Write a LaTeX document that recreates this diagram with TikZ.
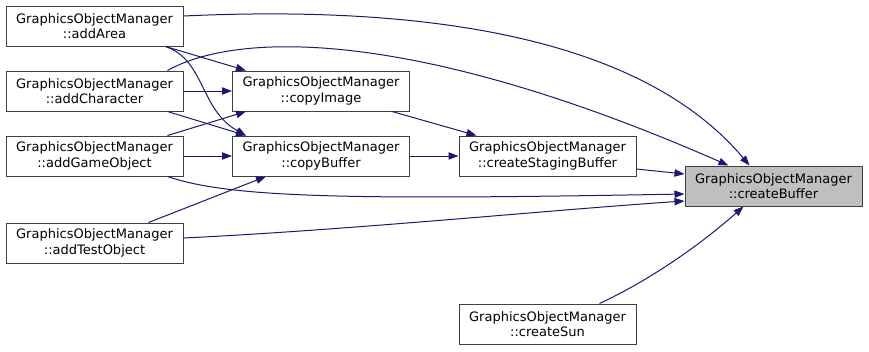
\documentclass[tikz,border=0pt]{standalone}
\usepackage{fontspec}
\setmainfont{DejaVu Sans}
\usetikzlibrary{arrows.meta,calc}

\definecolor{edgeblue}{HTML}{191970}

\begin{document}
\begin{tikzpicture}[
    x=0.75pt, y=-0.75pt,
    every node/.style={font=\fontsize{9.75}{11.5}\selectfont, align=center},
    func/.style={
        draw=black!75,
        line width=0.75pt,
        minimum width=132.75pt,
        minimum height=30pt,
        inner sep=0pt,
        fill=white
    },
    root/.style={func, fill=black!25},
    call/.style={draw=edgeblue, line width=0.75pt, -{Triangle[length=7.5pt,width=5.5pt]}}
]
\useasboundingbox (0,0) rectangle (869,351);

% callers on the left
\node[func] (addArea) at (94.5,26) {GraphicsObjectManager\\::addArea};
\node[func] (addCharacter) at (94.5,91) {GraphicsObjectManager\\::addCharacter};
\node[func] (addGameObject) at (94.5,156) {GraphicsObjectManager\\::addGameObject};
\node[func] (addTestObject) at (94.5,243) {GraphicsObjectManager\\::addTestObject};

% helpers
\node[func] (copyImage) at (321,91) {GraphicsObjectManager\\::copyImage};
\node[func] (copyBuffer) at (321,156) {GraphicsObjectManager\\::copyBuffer};
\node[func] (createStagingBuffer) at (547.5,156) {GraphicsObjectManager\\::createStagingBuffer};
\node[func] (createSun) at (547.5,324) {GraphicsObjectManager\\::createSun};
\node[root] (createBuffer) at (773.5,186) {GraphicsObjectManager\\::createBuffer};

% into copyImage
\draw[call] ($(addArea.south east)+(-18,0)$) -- ($(copyImage.north west)+(14,0)$);
\draw[call] (addCharacter.east) -- (copyImage.west);
\draw[call] ($(addGameObject.north east)+(-16,0)$) -- ($(copyImage.south west)+(14,0)$);

% into copyBuffer
\draw[call] ($(addArea.south east)+(-18,0)$) .. controls (205,60) and (200,110) .. ($(copyBuffer.north west)+(14,0)$);
\draw[call] ($(addCharacter.south east)+(-16,0)$) -- ($(copyBuffer.north west)+(14,0)$);
\draw[call] (addGameObject.east) -- (copyBuffer.west);
\draw[call] ($(addTestObject.north east)+(-35,0)$) -- ($(copyBuffer.south west)+(34,0)$);

% into createStagingBuffer
\draw[call] ($(copyImage.south east)+(-18,0)$) -- ($(createStagingBuffer.north west)+(18,0)$);
\draw[call] (copyBuffer.east) -- (createStagingBuffer.west);

% into createBuffer
\draw[call] ($(addArea.east)+(0,-10)$) .. controls (420,5) and (640,35) .. ($(createBuffer.north)+(-24,0)$);
\draw[call] ($(addCharacter.north east)+(-16,0)$) .. controls (240,30) and (420,30) .. ($(createBuffer.north)+(-45,0)$);
\draw[call] ($(addGameObject.south east)+(-16,0)$) .. controls (230,198) and (350,200) .. ($(createBuffer.west)+(0,8)$);
\draw[call] ($(addTestObject.east)+(0,-5)$) .. controls (350,230) and (550,210) .. ($(createBuffer.west)+(0,15)$);
\draw[call] ($(createStagingBuffer.east)+(0,13)$) -- ($(createBuffer.west)+(0,-12)$);
\draw[call] ($(createSun.north)+(52,0)$) .. controls (650,280) and (700,245) .. ($(createBuffer.south)+(-30,0)$);
\end{tikzpicture}
\end{document}
